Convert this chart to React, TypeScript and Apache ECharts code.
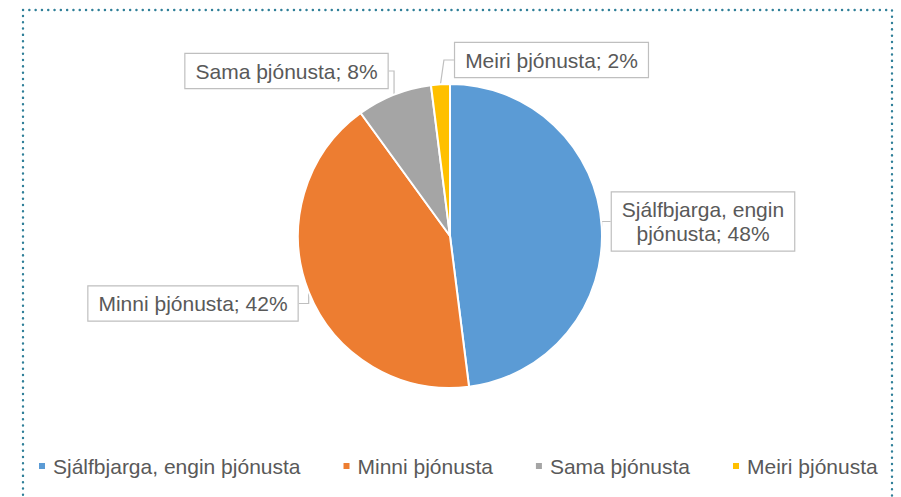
import React, { useEffect, useRef } from "react";
import * as echarts from "echarts";

const categories = ["Sjálfbjarga, engin þjónusta", "Minni þjónusta", "Sama þjónusta", "Meiri þjónusta"];
const values = [48, 42, 8, 2];
const colors = ["#5B9BD5", "#ED7D31", "#A5A5A5", "#FFC000"];
// label box centres (layout)
const labelCenters = [
  [703, 221.5],
  [193, 303.5],
  [286.5, 71],
  [551.5, 60],
];

const FONT = "'Liberation Sans', Arial, sans-serif";
const TEXT = "#595959";

export default function App() {
  const ref = useRef<HTMLDivElement>(null);
  useEffect(() => {
    document.body.style.margin = "0";
    const chart = echarts.init(ref.current!, null, { renderer: "svg" });
    chart.setOption({
      animation: false,
      backgroundColor: "#ffffff",
      textStyle: { fontFamily: FONT },
      color: colors,
      graphic: [
        {
          type: "rect",
          shape: { x: 23, y: 10, width: 869, height: 520 },
          silent: true,
          style: {
            fill: "none",
            stroke: "#2F7F98",
            lineWidth: 2.4,
            lineDash: [0.1, 6.2],
            lineCap: "round",
          },
        },
      ],
      legend: {
        data: categories,
        left: 32,
        top: 450,
        icon: "rect",
        itemWidth: 8,
        itemHeight: 8,
        itemGap: 41,
        textStyle: { fontFamily: FONT, fontSize: 21, color: TEXT, lineHeight: 22, padding: [0, 0, 0, 2] },
      },
      series: [
        {
          type: "pie",
          center: [450, 236],
          radius: 152,
          startAngle: 90,
          clockwise: true,
          itemStyle: { borderColor: "#ffffff", borderWidth: 2 },
          data: categories.map((name, i) => ({ name, value: values[i] })),
          label: {
            show: true,
            formatter: (p: any) => p.name.replace(", engin ", ", engin\n") + "; " + p.value + "%",
            fontFamily: FONT,
            fontSize: 21,
            lineHeight: 24,
            color: TEXT,
            backgroundColor: "#ffffff",
            borderColor: "#BFBFBF",
            borderWidth: 1.2,
            padding: [5, 10, 5, 10],
            align: "center",
          },
          labelLine: {
            show: true,
            length: 10,
            length2: 10,
            lineStyle: { color: "#BFBFBF", width: 1.2 },
          },
          labelLayout: (params: any) => {
            const c = labelCenters[params.dataIndex];
            return {
              x: c[0],
              y: c[1],
              align: "center",
              verticalAlign: "middle",
            };
          },
        },
      ],
    });
    return () => chart.dispose();
  }, []);
  return <div ref={ref} style={{ width: 901, height: 497 }} />;
}
